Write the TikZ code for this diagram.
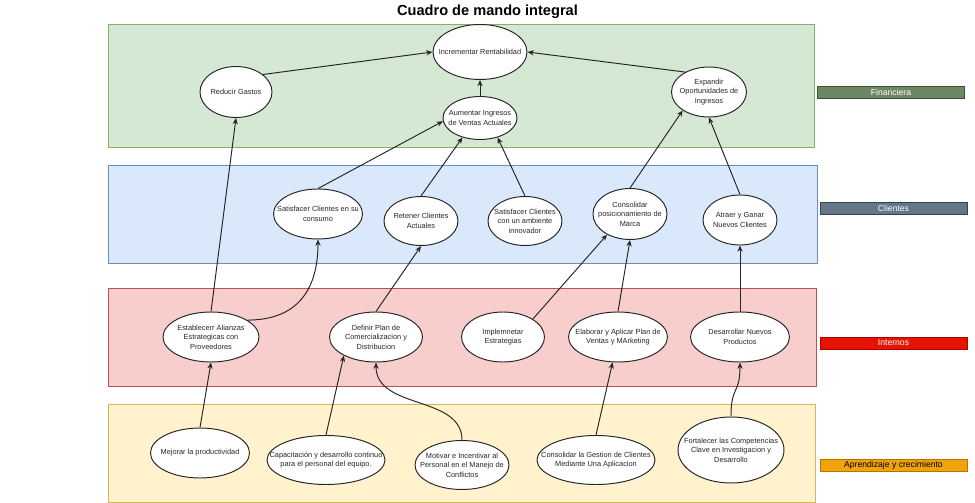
\documentclass[tikz,border=0pt]{standalone}
\usepackage{fontspec}
\setmainfont{Liberation Sans}
\usepackage{tikz}
\usetikzlibrary{arrows.meta,shapes.geometric}

\definecolor{finfill}{HTML}{D5E8D4}
\definecolor{findraw}{HTML}{82B366}
\definecolor{clifill}{HTML}{DAE8FC}
\definecolor{clidraw}{HTML}{6C8EBF}
\definecolor{intfill}{HTML}{F8CECC}
\definecolor{intdraw}{HTML}{B85450}
\definecolor{aprfill}{HTML}{FFF2CC}
\definecolor{aprdraw}{HTML}{D6B656}
\definecolor{finlab}{HTML}{6D8764}
\definecolor{finlabdraw}{HTML}{3A5431}
\definecolor{clilab}{HTML}{647687}
\definecolor{clilabdraw}{HTML}{314354}
\definecolor{intlab}{HTML}{E51400}
\definecolor{intlabdraw}{HTML}{B20000}
\definecolor{aprlab}{HTML}{F0A30A}
\definecolor{aprlabdraw}{HTML}{BD7000}

\tikzset{
    goal/.style 2 args={
      ellipse,
      draw=black!85, line width=0.55pt,
      fill=white,
      inner sep=0pt,
      minimum width=#1*0.02cm,
      minimum height=#2*0.02cm,
    },
    goaltext/.style={
      align=center,
      inner sep=0pt,
      text=black!85,
      font=\fontsize{4.2}{5.4}\selectfont,
    },
    band/.style 2 args={
      fill=#1, draw=#2, line width=0.55pt,
    },
    tag/.style 2 args={
      rectangle,
      fill=#1, draw=#2, line width=0.55pt,
      minimum width=147*0.02cm,
      minimum height=12*0.02cm,
      inner sep=0pt,
      text=white,
      font=\fontsize{4.9}{6}\selectfont,
    },
    flow/.style={
      ->, color=black!85, line width=0.55pt,
    },
}

\begin{document}
\begin{tikzpicture}[x=0.02cm, y=-0.02cm, >={Stealth[length=3.6pt,width=3pt]}]

  \useasboundingbox (0,0) rectangle (975,503);

  % perspectives
  \path[band={finfill}{findraw}] (108,24) rectangle (814,147);
  \path[band={clifill}{clidraw}] (108,165) rectangle (817,263);
  \path[band={intfill}{intdraw}] (108,288) rectangle (816,386);
  \path[band={aprfill}{aprdraw}] (108,404) rectangle (815,502);

  \node[font=\bfseries\fontsize{8.3}{10}\selectfont] (title) at (487.5,12)
  {Cuadro de mando integral};

  \node[tag={finlab}{finlabdraw}] (tfin) at (891,92) {Financiera};
  \node[tag={clilab}{clilabdraw}] (tcli) at (893.5,208) {Clientes};
  \node[tag={intlab}{intlabdraw}] (tint) at (893.5,343) {Internos};
  \node[tag={aprlab}{aprlabdraw}, text=black] (tapr) at (893.5,465.5)
  {Aprendizaje y crecimiento};

  % financiera
  \node[goal={94}{55},
  label={[goaltext]center:Incrementar Rentabilidad}] (incrementar) at (480,52) {};
  \node[goal={72}{51},
  label={[goaltext]center:Reducir Gastos}] (reducir) at (236,92) {};
  \node[goal={74}{43},
  label={[goaltext]center:Aumentar Ingresos\\de Ventas Actuales}] (aumentar) at (480,118) {};
  \node[goal={75}{50},
  label={[goaltext]center:Expandir\\Oportunidades de\\Ingresos}] (expandir) at (709,92) {};

  % clientes
  \node[goal={89}{50},
  label={[goaltext]center:Satisfacer Clientes en su\\consumo}] (satconsumo) at (318,214) {};
  \node[goal={74}{49},
  label={[goaltext]center:Retener Clientes\\Actuales}] (retener) at (421,221) {};
  \node[goal={74}{49},
  label={[goaltext]center:Satisfacer Clientes\\con un ambiente\\innovador}] (satambiente) at (525,221) {};
  \node[goal={74}{51},
  label={[goaltext]center:Consolidar\\posicionamiento de\\Marca}] (posicionar) at (630,214) {};
  \node[goal={74}{50},
  label={[goaltext]center:Atraer y Ganar\\Nuevos Clientes}] (atraer) at (740,220) {};

  % internos
  \node[goal={96}{50},
  label={[goaltext]center:Establecerr Alianzas\\Estrategicas con\\Proveedores}] (alianzas) at (211,337) {};
  \node[goal={93}{50},
  label={[goaltext]center:Definir Plan de\\Comercializacion y\\Distribucion}] (plancom) at (376,337) {};
  \node[goal={83}{50},
  label={[goaltext]center:Implemnetar\\Estrategias}] (implementar) at (503,337) {};
  \node[goal={99}{50},
  label={[goaltext]center:Elaborar y Aplicar Plan de\\Ventas y MArketing}] (planventas) at (618,337) {};
  \node[goal={99}{50},
  label={[goaltext]center:Desarrollar Nuevos\\Productos}] (productos) at (740,337) {};

  % aprendizaje
  \node[goal={99}{50},
  label={[goaltext]center:Mejorar la productividad}] (productividad) at (200,453) {};
  \node[goal={118}{49},
  label={[goaltext]center:Capacitación y desarrollo continuo\\para el personal del equipo.}] (capacitacion) at (326,460) {};
  \node[goal={94}{49},
  label={[goaltext]center:Motivar e Incentivar al\\Personal en el Manejo de\\Conflictos}] (motivar) at (462,465) {};
  \node[goal={118}{49},
  label={[goaltext]center:Consolidar la Gestion de Clientes\\Mediante Una Aplicacion}] (gestion) at (596,460) {};
  \node[goal={106}{66},
  label={[goaltext]center:Fortalecer las Competencias\\Clave en Investigacion y\\Desarrollo}] (competencias) at (731,450) {};

  \path[flow]
  (reducir.33) edge (incrementar.west)
  (expandir.140) edge (incrementar.east)
  (aumentar.north) edge (incrementar.south)

  (satconsumo.north) edge (aumentar.185)
  (retener.north) edge (aumentar.228)
  (satambiente.north) edge (aumentar.312)
  (posicionar.north) edge (expandir.215)
  (atraer.north) edge (expandir.south)

  (alianzas.north) edge (reducir.south)
  (alianzas.25) edge[out=0, in=-90, looseness=1.2] (satconsumo.south)
  (plancom.north) edge (retener.south)
  (implementar.31) edge (posicionar.222)
  (planventas.north) edge (posicionar.south)
  (productos.north) edge (atraer.south)

  (productividad.north) edge (alianzas.south)
  (capacitacion.north) edge (plancom.210)
  (gestion.north) edge (planventas.258);

  \draw[flow] (motivar.north) .. controls (462,395) and (376,410) .. (plancom.south);
  \draw[flow] (competencias.north) .. controls (731,385) and (740,395) .. (productos.south);

\end{tikzpicture}
\end{document}
